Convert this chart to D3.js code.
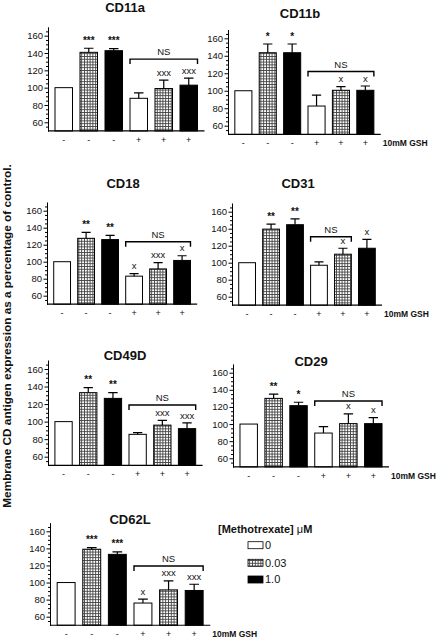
<!DOCTYPE html>
<html><head><meta charset="utf-8">
<script src="https://cdn.jsdelivr.net/npm/d3@7"></script>
<style>
body{margin:0;background:#fff}
svg{display:block}
text{font-family:"Liberation Sans",Arial,sans-serif;fill:#111}
</style>
</head><body><svg id="c" width="437" height="640"></svg>
<script>
// ---- data ----
const antigens = ["CD11a","CD11b","CD18","CD31","CD49D","CD29","CD62L"];
const legendConc = ["0","0.03","1.0"];
const barConc = ["0","0.03","1.0","0","0.03","1.0"];
const gshLabels = ["-","-","-","+","+","+"];
const yTicks = [60,80,100,120,140,160];
const meanValues = [
  [100,140.8,142.7,87.7,99,102.9],
  [100,143.5,143.5,82.5,100.5,100.5],
  [100,127.5,126,83,91.5,101.5],
  [100,139.5,144.7,97,110,117],
  [100,133,126.5,85.5,96,92],
  [100,130,121.5,89.5,100.5,100.5],
  [100,139,133,76,91.4,90.7]
];
const errorTops = [
  [null,145.5,145,94,108.6,111],
  [null,153.5,153.5,95,104.6,105.4],
  [null,134.5,131,86,99,107],
  [null,145.5,151.5,101,117,127.5],
  [null,138.7,133,87.5,101.5,98.5],
  [null,135,125.5,97,112,107.5],
  [null,141,136,80.5,102,98]
];
const sigMarks = [
  ["","***","***","","xxx","xxx"],
  ["","*","*","","x","x"],
  ["","**","**","x","xxx","x"],
  ["","**","**","","x","x"],
  ["","**","**","","xxx","xxx"],
  ["","**","*","","x","x"],
  ["","***","***","x","xxx","xxx"]
];
const nsLevels = [133,122,123.5,130.6,119,127,119.4];
const nsLastBar = [5,5,5,4,5,5,5];
const showGsh = [false,true,false,true,false,true,true];

// ---- layout ----
const layout = [
  {ax:48, end:204.5, y160:35.7, y60:122.3, tx:125, ty:11.7},
  {ax:228,end:380.7, y160:38.3, y60:125.7, tx:300, ty:17.5},
  {ax:47, end:197.2, y160:210.7,y60:295.7, tx:123, ty:187.5},
  {ax:232,end:382,   y160:211.7,y60:296.7, tx:298, ty:188},
  {ax:48, end:202.6, y160:369,  y60:456.7, tx:125, ty:360},
  {ax:233,end:389,   y160:372.7,y60:458.3, tx:311, ty:366},
  {ax:50, end:210.3, y160:531.3,y60:616.7, tx:130, ty:524.3}
];

const svg = d3.select("#c");
const defs = svg.append("defs");
const P = 2.8;
const pat = defs.append("pattern").attr("id","grid").attr("patternUnits","userSpaceOnUse")
  .attr("width",P).attr("height",P);
pat.append("rect").attr("width",P).attr("height",P).attr("fill","#fff");
pat.append("rect").attr("width",P).attr("height",0.9).attr("fill","#444");
pat.append("rect").attr("width",0.9).attr("height",P).attr("fill","#444");

const fillFor = c => c==="0" ? "#fff" : (c==="0.03" ? "url(#grid)" : "#000");

antigens.forEach((name,i)=>{
  const L = layout[i];
  const y = d3.scaleLinear().domain([60,160]).range([L.y60,L.y160]);
  const yTop = y(170), yBot = y(50);
  const x = d3.scaleBand().domain(d3.range(6)).range([L.ax,L.end])
    .paddingInner(0.3).paddingOuter(0.28);
  const g = svg.append("g");

  // title
  g.append("text").attr("x",L.tx).attr("y",L.ty).attr("text-anchor","middle")
    .attr("font-size",13).attr("font-weight","bold").text(name);

  // bars
  meanValues[i].forEach((v,j)=>{
    g.append("rect").attr("x",x(j)).attr("width",x.bandwidth())
      .attr("y",y(v)).attr("height",yBot-y(v))
      .attr("fill",fillFor(barConc[j])).attr("stroke","#000").attr("stroke-width",1);
  });
  // error bars
  errorTops[i].forEach((e,j)=>{
    if(e==null) return;
    const cx = x(j)+x.bandwidth()/2, hw = x.bandwidth()*0.27;
    g.append("path").attr("d",`M${cx},${y(meanValues[i][j])}V${y(e)}M${cx-hw},${y(e)}H${cx+hw}`)
      .attr("stroke","#000").attr("stroke-width",1.2).attr("fill","none");
  });
  // significance marks
  sigMarks[i].forEach((m,j)=>{
    if(!m) return;
    const e = errorTops[i][j];
    const cx = x(j)+x.bandwidth()/2;
    const isStar = m[0]==="*";
    g.append("text").attr("x",cx).attr("y",y(e)-(isStar?4.3:4.4))
      .attr("text-anchor","middle").attr("font-size",isStar?10:9.5)
      .attr("font-weight",isStar?"bold":"normal").text(m);
  });
  // NS bracket
  const bx1 = x(3), bx2 = x(nsLastBar[i])+x.bandwidth(), by = y(nsLevels[i]);
  g.append("path").attr("d",`M${bx1},${by+5}V${by}H${bx2}V${by+5}`)
    .attr("fill","none").attr("stroke","#000").attr("stroke-width",1.4);
  g.append("text").attr("x",(bx1+bx2)/2).attr("y",by-4).attr("text-anchor","middle")
    .attr("font-size",9.5).text("NS");

  // y axis
  const ax = g.append("g").attr("transform",`translate(${L.ax},0)`);
  const ys = d3.scaleLinear().domain([50,170]).range([yBot,yTop]);
  ax.call(d3.axisLeft(ys).tickValues(yTicks).tickSize(3.5).tickSizeOuter(0).tickPadding(1.5));
  ax.append("g").call(d3.axisLeft(ys).tickValues(d3.range(55,170,5).filter(t=>t%20!==0))
    .tickSize(2).tickSizeOuter(0).tickFormat(""));
  ax.selectAll("text").attr("font-size",9.5).attr("fill","#111")
    .attr("font-family","Liberation Sans, Arial, sans-serif");
  ax.selectAll("line,path").attr("stroke","#000");

  // x axis line
  g.append("line").attr("x1",L.ax).attr("x2",L.end).attr("y1",yBot).attr("y2",yBot)
    .attr("stroke","#000").attr("stroke-width",1.2);

  // GSH labels
  gshLabels.forEach((s,j)=>{
    g.append("text").attr("x",x(j)+x.bandwidth()/2).attr("y",yBot+12)
      .attr("text-anchor","middle").attr("font-size",9).text(s);
  });
  if(showGsh[i]){
    g.append("text").attr("x",L.end+2).attr("y",yBot+12).attr("font-size",8.5)
      .attr("font-weight","bold").text("10mM GSH");
  }
});

// y-axis title
svg.append("text").attr("transform","translate(11,336) rotate(-90)")
  .attr("text-anchor","middle").attr("font-size",11.8).attr("font-weight","bold")
  .text("Membrane CD antigen expression as a percentage of control.");

// legend
const lg = svg.append("g");
const lt = lg.append("text").attr("x",218).attr("y",533).attr("font-size",11).attr("font-weight","bold");
lt.append("tspan").text("[Methotrexate] ");
lt.append("tspan").attr("font-weight","normal").text("μ");
lt.append("tspan").text("M");
const swY = [541.7,559.3,576];
const txY = [549.3,566.7,583.3];
legendConc.forEach((c,j)=>{
  lg.append("rect").attr("x",248).attr("y",swY[j]).attr("width",15).attr("height",7)
    .attr("fill",fillFor(c)).attr("stroke","#000").attr("stroke-width",0.8);
  lg.append("text").attr("x",265).attr("y",txY[j]).attr("font-size",11).text(c);
});
</script>
</body></html>
